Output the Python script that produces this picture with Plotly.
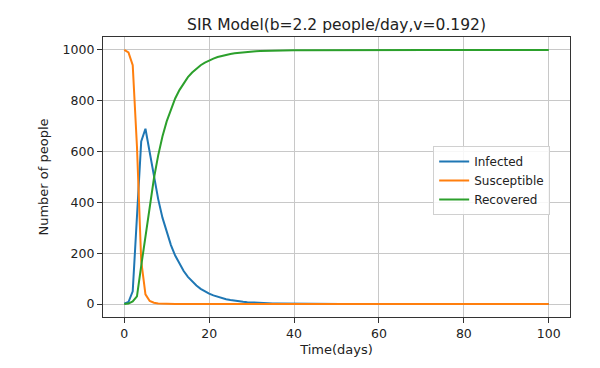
import plotly.graph_objects as go

days = list(range(0, 101))

infected = [1, 8, 50, 350, 640, 690, 600, 500, 413, 340,
            281, 232, 191, 158, 130, 107, 89, 73, 60, 50,
            41, 34, 28, 23, 19, 16, 13, 11, 9, 7.4,
            6.1, 5, 4.1, 3.4, 2.8, 2.3, 1.9, 1.6, 1.3, 1.1,
            0.9, 0.7, 0.6, 0.5, 0.4, 0.3, 0.3, 0.2, 0.2, 0.1,
            0.1, 0, 0, 0, 0, 0, 0, 0, 0, 0,
            0, 0, 0, 0, 0, 0, 0, 0, 0, 0,
            0, 0, 0, 0, 0, 0, 0, 0, 0, 0,
            0, 0, 0, 0, 0, 0, 0, 0, 0, 0,
            0, 0, 0, 0, 0, 0, 0, 0, 0, 0,
            0]

susceptible = [1000, 990, 940, 620, 170, 38, 12, 5, 2, 1,
               0.5, 0.3, 0.2, 0.1, 0, 0, 0, 0, 0, 0,
               0, 0, 0, 0, 0, 0, 0, 0, 0, 0,
               0, 0, 0, 0, 0, 0, 0, 0, 0, 0,
               0, 0, 0, 0, 0, 0, 0, 0, 0, 0,
               0, 0, 0, 0, 0, 0, 0, 0, 0, 0,
               0, 0, 0, 0, 0, 0, 0, 0, 0, 0,
               0, 0, 0, 0, 0, 0, 0, 0, 0, 0,
               0, 0, 0, 0, 0, 0, 0, 0, 0, 0,
               0, 0, 0, 0, 0, 0, 0, 0, 0, 0,
               0]

recovered = [0, 2, 10, 30, 150, 272, 388, 495, 585, 659,
             719, 768, 809, 842, 870, 893, 911, 927, 940, 950,
             959, 966, 972, 977, 981, 984, 987, 989, 991, 992.6,
             993.9, 995, 995.9, 996.6, 997.2, 997.7, 998.1, 998.4, 998.7, 998.9,
             999.1, 999.3, 999.4, 999.5, 999.6, 999.7, 999.7, 999.8, 999.8, 999.9,
             999.9, 1000, 1000, 1000, 1000, 1000, 1000, 1000, 1000, 1000,
             1000, 1000, 1000, 1000, 1000, 1000, 1000, 1000, 1000, 1000,
             1000, 1000, 1000, 1000, 1000, 1000, 1000, 1000, 1000, 1000,
             1000, 1000, 1000, 1000, 1000, 1000, 1000, 1000, 1000, 1000,
             1000, 1000, 1000, 1000, 1000, 1000, 1000, 1000, 1000, 1000,
             1000]

x_ticks = [0, 20, 40, 60, 80, 100]
y_ticks = [0, 200, 400, 600, 800, 1000]

FONT = "DejaVu Sans"
TXT = "#222222"

fig = go.Figure()
fig.add_trace(go.Scatter(x=days, y=infected, mode="lines", name="Infected",
                         line=dict(color="#1f77b4", width=2)))
fig.add_trace(go.Scatter(x=days, y=susceptible, mode="lines", name="Susceptible",
                         line=dict(color="#ff7f0e", width=2)))
fig.add_trace(go.Scatter(x=days, y=recovered, mode="lines", name="Recovered",
                         line=dict(color="#2ca02c", width=2)))

axis_common = dict(
    showgrid=True, gridcolor="#c8c8c8", gridwidth=1,
    zeroline=False, showline=True, linecolor="#333333", linewidth=1.2,
    mirror=True, ticks="outside", ticklen=5, tickcolor="#333333",
    tickfont=dict(family=FONT, size=12.5, color=TXT),
)

# The page body adds an 8px offset, so margins are shifted to compensate.
L, R, T, B = 95, 38, 29, 59

fig.update_layout(
    width=600, height=368,
    paper_bgcolor="white", plot_bgcolor="white",
    margin=dict(l=L, r=R, t=T, b=B),
    title=dict(text="SIR Model(b=2.2 people/day,v=0.192)",
               font=dict(family=FONT, size=15.5, color=TXT),
               x=(L + 600 - R) / 2 / 600, xanchor="center",
               y=1 - 17 / 368, yanchor="middle"),
    xaxis=dict(range=[-5, 105], tickvals=x_ticks,
               title=dict(text="Time(days)", font=dict(family=FONT, size=13, color=TXT),
                          standoff=4),
               **axis_common),
    yaxis=dict(range=[-51, 1051], tickvals=y_ticks,
               title=dict(text="Number of people", font=dict(family=FONT, size=13, color=TXT),
                          standoff=11),
               **axis_common),
    legend=dict(x=0.707, y=0.611, xanchor="left", yanchor="top",
                bgcolor="rgba(255,255,255,0.85)", bordercolor="#d0d0d0", borderwidth=1,
                font=dict(family=FONT, size=12, color=TXT),
                tracegroupgap=0, itemwidth=30),
    showlegend=True,
)

fig.write_html("out.html")
